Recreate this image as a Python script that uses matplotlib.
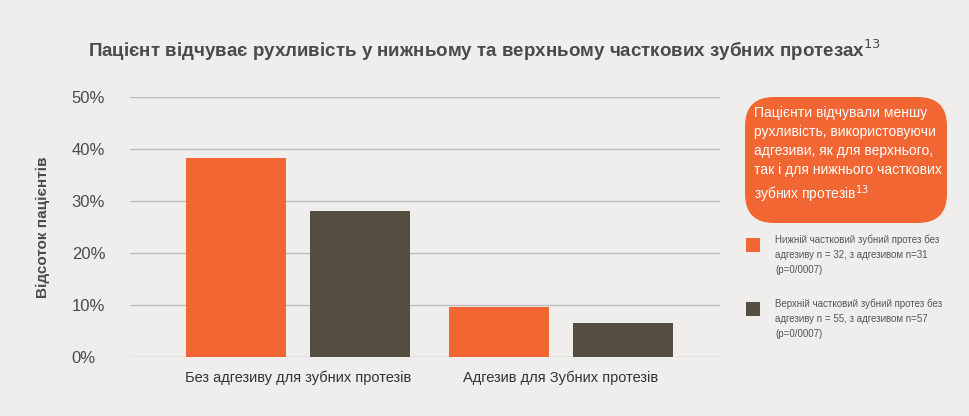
import matplotlib.pyplot as plt
from matplotlib.patches import FancyBboxPatch
import numpy as np

# data
categories = ['Без адгезиву для зубних протезів', 'Адгезив для Зубних протезів']
lower_vals = [38.3, 9.6]
upper_vals = [28.1, 6.5]
yticks = [0, 10, 20, 30, 40, 50]
legend_labels = ['Нижній частковий зубний протез без\nадгезиву n = 32, з адгезивом n=31\n(p=0/0007)',
                 'Верхній частковий зубний протез без\nадгезиву n = 55, з адгезивом n=57\n(p=0/0007)']

ORANGE = '#f26633'
DARK = '#544e41'
BG = '#efeeec'
TXT = '#4a4a4a'

plt.rc('font', family='Liberation Sans')

fig = plt.figure(figsize=(9.7, 4.16), dpi=100, facecolor=BG)
ax = fig.add_axes([130/970, 1-357/416, 590/970, 260/416], facecolor=BG)

x = np.arange(len(categories))
w = 0.38
off = 0.235
ax.bar(x - off, lower_vals, w, color=ORANGE, zorder=3)
ax.bar(x + off, upper_vals, w, color=DARK, zorder=3)

ax.set_xlim(-0.639, 1.605)
ax.set_ylim(0, 50)
ax.set_yticks(yticks)
ax.set_yticklabels([f'{v}%' for v in yticks], fontsize=12, color=TXT)
ax.yaxis.grid(True, color='#bdbcba', linewidth=1, zorder=0)
ax.tick_params(axis='y', length=0, pad=42)
for lab in ax.get_yticklabels():
    lab.set_horizontalalignment('left')
ax.set_xticks(x)
ax.set_xticklabels(categories, fontsize=10.5, color='#333333')
ax.tick_params(axis='x', length=0, pad=10)
for s in ax.spines.values():
    s.set_visible(False)
ax.set_ylabel('Відсоток пацієнтів', fontsize=11, fontweight='bold', color=TXT, labelpad=-12)
ax.yaxis.set_label_coords(-0.135, 0.5)

fig.text(0.5, 1-50/416, 'Пацієнт відчуває рухливість у нижньому та верхньому часткових зубних протезах$^{13}$',
         ha='center', va='center', fontsize=13.5, fontweight='bold', color=TXT)

# callout box
box = FancyBboxPatch((745/970, 1-223/416), 202/970, 126/416,
                     boxstyle='round,pad=0,rounding_size=0.03', transform=fig.transFigure,
                     facecolor=ORANGE, edgecolor='none', mutation_aspect=970/416)
fig.patches.append(box)
fig.text(754/970, 1-106/416,
         'Пацієнти відчували меншу\nрухливість, використовуючи\nадгезиви, як для верхнього,\nтак і для нижнього часткових\nзубних протезів$^{13}$',
         ha='left', va='top', fontsize=10, color='white', linespacing=1.45)

# legend
for i, (lab, col) in enumerate(zip(legend_labels, [ORANGE, DARK])):
    ytop = 238 + i * 64
    fig.patches.append(plt.Rectangle((746/970, 1-(ytop+14)/416), 14/970, 14/416,
                                     transform=fig.transFigure, facecolor=col, edgecolor='none'))
    fig.text(775/970, 1-(ytop-3)/416, lab, ha='left', va='top', fontsize=7,
             color='#555555', linespacing=1.6)

plt.savefig('out.png', dpi=100, facecolor=BG)
